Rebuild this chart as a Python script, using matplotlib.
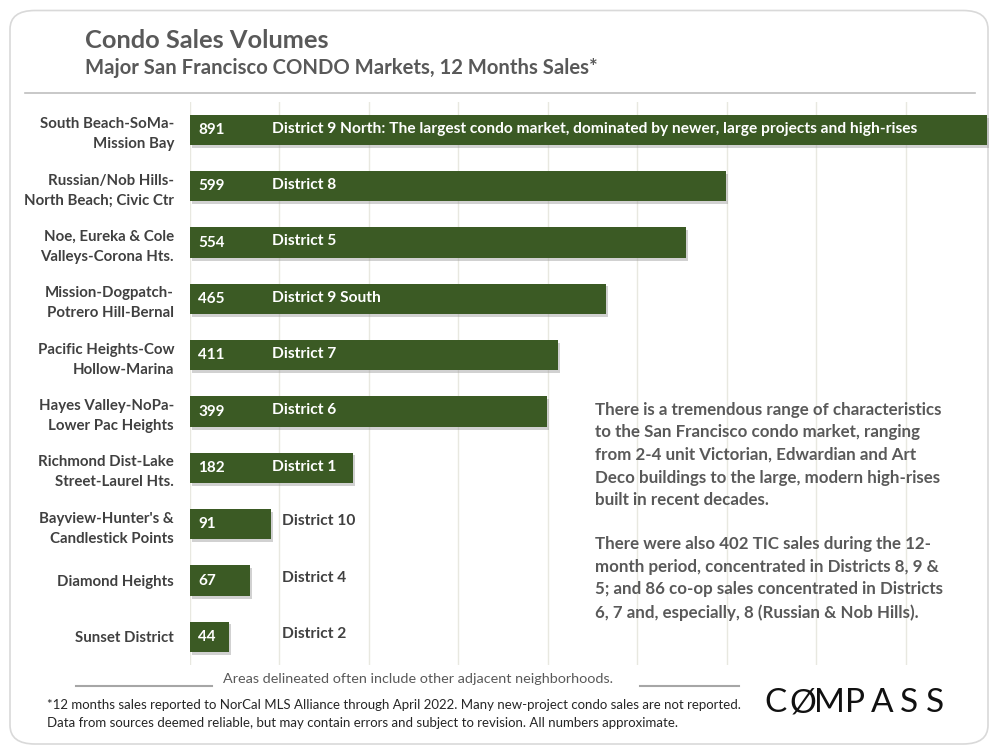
import matplotlib.pyplot as plt
import matplotlib.patheffects as pe
from matplotlib.patches import FancyBboxPatch
import numpy as np

plt.rcParams['font.family'] = ['Lato', 'DejaVu Sans']

areas = ["South Beach-SoMa-\nMission Bay", "Russian/Nob Hills-\nNorth Beach; Civic Ctr",
         "Noe, Eureka & Cole\nValleys-Corona Hts.", "Mission-Dogpatch-\nPotrero Hill-Bernal",
         "Pacific Heights-Cow\nHollow-Marina", "Hayes Valley-NoPa-\nLower Pac Heights",
         "Richmond Dist-Lake\nStreet-Laurel Hts.", "Bayview-Hunter's &\nCandlestick Points",
         "Diamond Heights", "Sunset District"]
sales = [891, 599, 554, 465, 411, 399, 182, 91, 67, 44]
districts = ["District 9 North: The largest condo market, dominated by newer, large projects and high-rises",
             "District 8", "District 5", "District 9 South", "District 7", "District 6",
             "District 1", "District 10", "District 4", "District 2"]

green = "#3b5a24"
gray = "#595959"
dark = "#404040"

fig = plt.figure(figsize=(10, 7.5), dpi=100)
fig.patch.set_facecolor("white")

# card frame
card = FancyBboxPatch((0.010, 0.008), 0.978, 0.978, boxstyle="round,pad=0,rounding_size=0.025",
                      transform=fig.transFigure, facecolor="white", edgecolor="#d9d9d9", lw=1.2,
                      zorder=-10)
fig.patches.append(card)

ax = fig.add_axes([0.19, 0.1133, 0.805, 0.751])
ax.set_facecolor("none")
y = np.arange(len(sales))
bars = ax.barh(y, sales, height=0.54, color=green)
for b in bars:
    b.set_path_effects([pe.SimplePatchShadow(offset=(1.5, -2), shadow_rgbFace="#9a9a9a", alpha=0.45), pe.Normal()])
ax.set_ylim(len(sales) - 0.5, -0.5)
ax.set_xlim(0, 900)
ax.set_xticks(np.arange(0, 900, 100))
ax.xaxis.grid(True, color="#e8e8e0", lw=1)
ax.set_axisbelow(True)
ax.tick_params(left=False, bottom=False, labelbottom=False)
ax.set_yticks(y)
ax.set_yticklabels(areas, fontsize=10.8, fontweight="bold", color=dark, linespacing=1.55)
ax.tick_params(axis="y", pad=8)
for s in ax.spines.values():
    s.set_visible(False)

for i, (v, d) in enumerate(zip(sales, districts)):
    ax.text(9, i, str(v), color="white", fontsize=11, fontweight="bold", va="center", ha="left")
    inside = v > 150
    ax.text(92 if inside else 103, i - 0.02 if inside else i - 0.05, d,
            color="white" if inside else dark, fontsize=11.2, fontweight="bold", va="center", ha="left")

# top rule
fig.add_artist(plt.Line2D([0.025, 0.975], [0.876, 0.876], color="#bfbfbf", lw=1.2))

fig.text(0.085, 0.946, "Condo Sales Volumes", fontsize=18.3, fontweight="bold", color=gray, va="center")
fig.text(0.085, 0.909, "Major San Francisco CONDO Markets, 12 Months Sales*", fontsize=14.6,
         fontweight="bold", color=gray, va="center")

note1 = ("There is a tremendous range of characteristics\n"
         "to the San Francisco condo market, ranging\n"
         "from 2-4 unit Victorian, Edwardian and Art\n"
         "Deco buildings to the large, modern high-rises\n"
         "built in recent decades.")
note2 = ("There were also 402 TIC sales during the 12-\n"
         "month period, concentrated in Districts 8, 9 &\n"
         "5; and 86 co-op sales concentrated in Districts\n"
         "6, 7 and, especially, 8 (Russian & Nob Hills).")
fig.text(0.595, 0.464, note1, fontsize=12.2, fontweight="bold", color=gray, va="top", linespacing=1.5)
fig.text(0.595, 0.285, note2, fontsize=12.2, fontweight="bold", color=gray, va="top", linespacing=1.5)

fig.text(0.418, 0.095, "Areas delineated often include other adjacent neighborhoods.", fontsize=10.4,
         color=gray, ha="center", va="center")
fig.add_artist(plt.Line2D([0.076, 0.212], [0.085, 0.085], color="#a6a6a6", lw=1.5))
fig.add_artist(plt.Line2D([0.640, 0.739], [0.085, 0.085], color="#a6a6a6", lw=1.5))

fig.text(0.047, 0.060, "*12 months sales reported to NorCal MLS Alliance through April 2022. "
         "Many new-project condo sales are not reported.", fontsize=9.5, color="#262626", va="center")
fig.text(0.047, 0.036, "Data from sources deemed reliable, but may contain errors and subject to revision. "
         "All numbers approximate.", fontsize=9.5, color="#262626", va="center")
for k, ch in enumerate("CØMPASS"):
    fig.text(0.776 + k * 0.0265, 0.062, ch, fontsize=24, color="#111111", ha="center", va="center")

fig.savefig("out.png", dpi=100)
